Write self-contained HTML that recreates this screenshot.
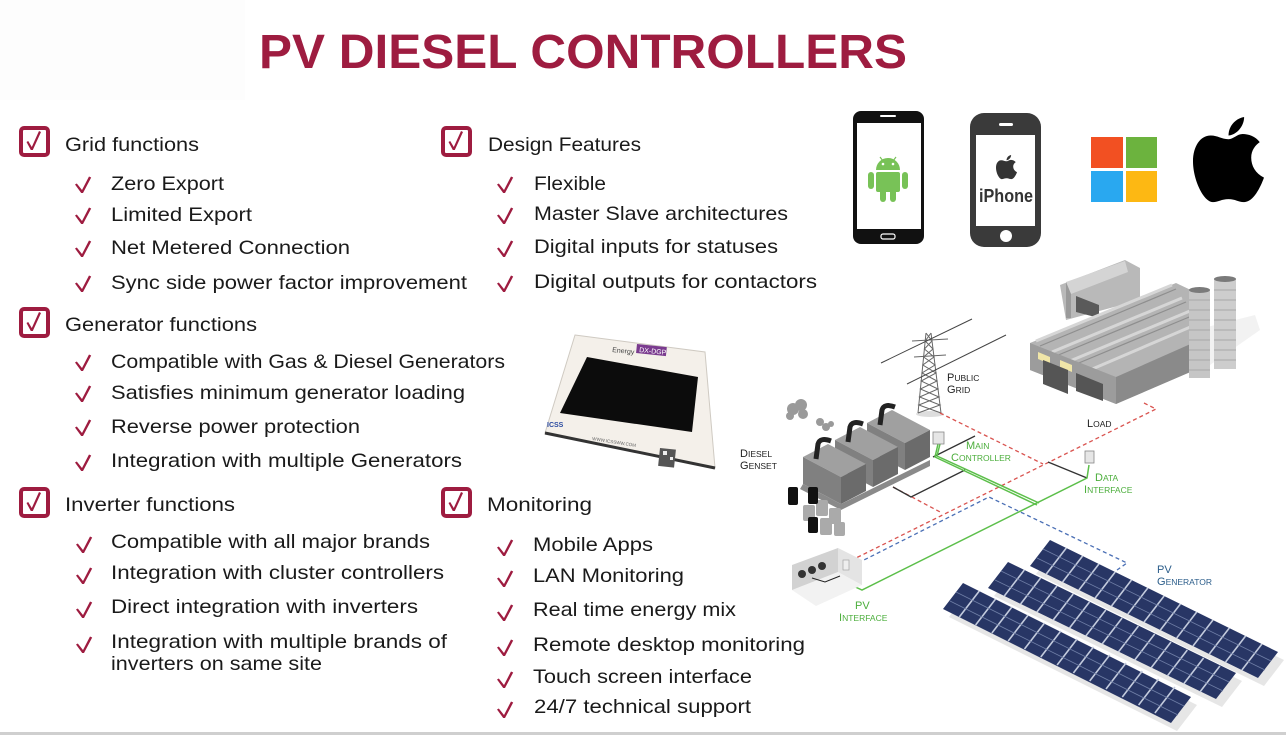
<!DOCTYPE html>
<html><head><meta charset="utf-8"><style>
html,body{margin:0;padding:0;background:#fff;}
svg{display:block;}
.t{font-family:"Liberation Sans",sans-serif;font-size:19.5px;fill:#1a1a1a;}
.lb{font-family:"Liberation Sans",sans-serif;font-size:10px;}
</style></head><body>
<svg width="1286" height="735" viewBox="0 0 1286 735" xmlns="http://www.w3.org/2000/svg">
<defs>
<polygon id="ck" points="0,7.5 1.8,6.5 7,13 14,-0.5 16.2,0.5 8,16 6.2,16" fill="#9e1c40"/>
<g id="bx"><rect x="2" y="2" width="27" height="27" rx="3" fill="#fff" stroke="#9e1c40" stroke-width="4"/><polygon points="7.5,16 9.2,15 12.8,21 20,5 22,6 13.8,24 11.8,24" fill="#9e1c40"/></g>
</defs>
<rect x="0" y="0" width="1286" height="735" fill="#fff"/>
<rect x="0" y="0" width="245" height="100" fill="#fdfdfd"/>
<!-- title -->
<text x="259" y="68" font-family="Liberation Sans, sans-serif" font-weight="bold" font-size="48" fill="#9e1c40" textLength="648" lengthAdjust="spacingAndGlyphs">PV DIESEL CONTROLLERS</text>

<!-- Grid functions -->
<use href="#bx" x="19" y="126"/>
<text class="t" x="65" y="151" textLength="134" lengthAdjust="spacingAndGlyphs">Grid functions</text>
<use href="#ck" x="75" y="177"/><text class="t" x="111" y="190" textLength="113" lengthAdjust="spacingAndGlyphs">Zero Export</text>
<use href="#ck" x="75" y="208"/><text class="t" x="111" y="221" textLength="141" lengthAdjust="spacingAndGlyphs">Limited Export</text>
<use href="#ck" x="75" y="241"/><text class="t" x="111" y="254" textLength="239" lengthAdjust="spacingAndGlyphs">Net Metered Connection</text>
<use href="#ck" x="75" y="276"/><text class="t" x="111" y="289" textLength="356" lengthAdjust="spacingAndGlyphs">Sync side power factor improvement</text>

<!-- Design features -->
<use href="#bx" x="441" y="126"/>
<text class="t" x="488" y="151" textLength="153" lengthAdjust="spacingAndGlyphs">Design Features</text>
<use href="#ck" x="497" y="177"/><text class="t" x="534" y="190" textLength="72" lengthAdjust="spacingAndGlyphs">Flexible</text>
<use href="#ck" x="497" y="208"/><text class="t" x="534" y="220" textLength="254" lengthAdjust="spacingAndGlyphs">Master Slave architectures</text>
<use href="#ck" x="497" y="241"/><text class="t" x="534" y="253" textLength="244" lengthAdjust="spacingAndGlyphs">Digital inputs for statuses</text>
<use href="#ck" x="497" y="276"/><text class="t" x="534" y="288" textLength="283" lengthAdjust="spacingAndGlyphs">Digital outputs for contactors</text>

<!-- Generator -->
<use href="#bx" x="19" y="307"/>
<text class="t" x="65" y="331" textLength="192" lengthAdjust="spacingAndGlyphs">Generator functions</text>
<use href="#ck" x="75" y="355"/><text class="t" x="111" y="368" textLength="394" lengthAdjust="spacingAndGlyphs">Compatible with Gas &amp; Diesel Generators</text>
<use href="#ck" x="75" y="386"/><text class="t" x="111" y="399" textLength="354" lengthAdjust="spacingAndGlyphs">Satisfies minimum generator loading</text>
<use href="#ck" x="75" y="420"/><text class="t" x="111" y="433" textLength="249" lengthAdjust="spacingAndGlyphs">Reverse power protection</text>
<use href="#ck" x="75" y="455"/><text class="t" x="111" y="467" textLength="351" lengthAdjust="spacingAndGlyphs">Integration with multiple Generators</text>

<!-- Inverter -->
<use href="#bx" x="19" y="487"/>
<text class="t" x="65" y="511" textLength="170" lengthAdjust="spacingAndGlyphs">Inverter functions</text>
<use href="#ck" x="76" y="537"/><text class="t" x="111" y="548" textLength="319" lengthAdjust="spacingAndGlyphs">Compatible with all major brands</text>
<use href="#ck" x="76" y="568"/><text class="t" x="111" y="579" textLength="333" lengthAdjust="spacingAndGlyphs">Integration with cluster controllers</text>
<use href="#ck" x="76" y="602"/><text class="t" x="111" y="613" textLength="307" lengthAdjust="spacingAndGlyphs">Direct integration with inverters</text>
<use href="#ck" x="76" y="637"/><text class="t" x="111" y="648" textLength="336" lengthAdjust="spacingAndGlyphs">Integration with multiple brands of</text>
<text class="t" x="111" y="670" textLength="211" lengthAdjust="spacingAndGlyphs">inverters on same site</text>

<!-- Monitoring -->
<use href="#bx" x="441" y="487"/>
<text class="t" x="487" y="511" textLength="105" lengthAdjust="spacingAndGlyphs">Monitoring</text>
<use href="#ck" x="497" y="540"/><text class="t" x="533" y="551" textLength="120" lengthAdjust="spacingAndGlyphs">Mobile Apps</text>
<use href="#ck" x="497" y="571"/><text class="t" x="533" y="582" textLength="151" lengthAdjust="spacingAndGlyphs">LAN Monitoring</text>
<use href="#ck" x="497" y="605"/><text class="t" x="533" y="616" textLength="203" lengthAdjust="spacingAndGlyphs">Real time energy mix</text>
<use href="#ck" x="497" y="640"/><text class="t" x="533" y="651" textLength="272" lengthAdjust="spacingAndGlyphs">Remote desktop monitoring</text>
<use href="#ck" x="497" y="672"/><text class="t" x="533" y="683" textLength="219" lengthAdjust="spacingAndGlyphs">Touch screen interface</text>
<use href="#ck" x="497" y="702"/><text class="t" x="534" y="713" textLength="217" lengthAdjust="spacingAndGlyphs">24/7 technical support</text>

<!-- Android phone -->
<rect x="853" y="111" width="71" height="133" rx="8" fill="#111"/>
<rect x="857" y="123" width="64" height="106" fill="#fff"/>
<rect x="880" y="115" width="16" height="2" rx="1" fill="#fff"/>
<rect x="881" y="234" width="14" height="5" rx="2" fill="none" stroke="#fff" stroke-width="1.2"/>
<g fill="#78c257">
<path d="M876,170 a12,12 0 0 1 24,0 z"/>
<rect x="876" y="172" width="24" height="20" rx="2"/>
<rect x="868" y="172" width="6" height="17" rx="3"/>
<rect x="902" y="172" width="6" height="17" rx="3"/>
<rect x="880" y="188" width="6" height="14" rx="3"/>
<rect x="890" y="188" width="6" height="14" rx="3"/>
<line x1="880" y1="157" x2="883" y2="161" stroke="#78c257" stroke-width="1.2"/>
<line x1="896" y1="157" x2="893" y2="161" stroke="#78c257" stroke-width="1.2"/>
</g>
<circle cx="883" cy="164" r="1.3" fill="#fff"/><circle cx="893" cy="164" r="1.3" fill="#fff"/>

<!-- iPhone -->
<rect x="970" y="113" width="71" height="134" rx="14" fill="#3a3a3a"/>
<rect x="976" y="135" width="59" height="91" fill="#fff"/>
<rect x="999" y="123" width="14" height="3" rx="1.5" fill="#fff"/>
<circle cx="1006" cy="236" r="6" fill="#fff"/>
<g transform="translate(996,155) scale(0.21)" fill="#333">
<path d="M50,30 C40,30 35,25 25,25 C10,25 0,40 0,60 C0,85 15,115 28,115 C36,115 40,111 50,111 C60,111 63,115 72,115 C85,115 95,95 100,82 C88,76 82,66 82,55 C82,45 88,38 94,34 C88,26 78,23 70,23 C62,23 57,30 50,30 Z"/>
<path d="M50,25 C50,12 60,2 72,0 C72,12 62,24 50,25 Z"/>
</g>
<text x="979" y="202" font-family="Liberation Sans, sans-serif" font-weight="bold" font-size="18" fill="#333" textLength="54" lengthAdjust="spacingAndGlyphs">iPhone</text>

<!-- Windows -->
<rect x="1091" y="137" width="32" height="31" fill="#f25022"/>
<rect x="1126" y="137" width="31" height="31" fill="#6cb33e"/>
<rect x="1091" y="171" width="32" height="31" fill="#29a8f0"/>
<rect x="1126" y="171" width="31" height="31" fill="#fdb813"/>

<!-- Apple -->
<g transform="translate(1193,117) scale(0.71,0.74)" fill="#000">
<path d="M50,30 C40,30 35,25 25,25 C10,25 0,40 0,60 C0,85 15,115 28,115 C36,115 40,111 50,111 C60,111 63,115 72,115 C85,115 95,95 100,82 C88,76 82,66 82,55 C82,45 88,38 94,34 C88,26 78,23 70,23 C62,23 57,30 50,30 Z"/>
<path d="M50,25 C50,12 60,2 72,0 C72,12 62,24 50,25 Z"/>
</g>

<!-- Tablet device -->
<polygon points="575,335 705,352 715,468 545,433" fill="#f4f0ea" stroke="#cfcac2" stroke-width="1"/>
<polyline points="545,433 715,468" stroke="#333" stroke-width="3" fill="none"/>
<polygon points="587,357 698,377 692,432 560,413" fill="#0c0c0c"/>
<text x="612" y="352" font-family="Liberation Sans, sans-serif" font-size="7" fill="#444" transform="rotate(6 612 352)">Energy</text>
<rect x="637" y="344" width="30" height="9" fill="#7a3b8f" transform="rotate(6 637 344)"/>
<text x="639" y="352" font-family="Liberation Sans, sans-serif" font-size="7" fill="#fff" transform="rotate(6 639 352)">DX-DGP</text>
<text x="547" y="427" font-family="Liberation Sans, sans-serif" font-size="7" font-weight="bold" fill="#2a4aa0">ICSS</text>
<text x="592" y="440" font-family="Liberation Sans, sans-serif" font-size="4.5" fill="#666" transform="rotate(9 592 440)">WWW.ICSSWW.COM</text>
<rect x="660" y="448" width="16" height="18" fill="#555" transform="rotate(6 660 448)"/>
<rect x="663" y="451" width="4" height="4" fill="#eee"/><rect x="670" y="457" width="3" height="3" fill="#eee"/>

<!-- Factory -->
<polygon points="1195,330 1255,315 1260,330 1200,372" fill="#f2f2f2"/>
<polygon points="1060,285 1125,260 1140,268 1140,300 1066,320" fill="#b9b9b9"/>
<polygon points="1066,282 1125,261 1128,272 1071,294" fill="#d4d4d4"/>
<polygon points="1066,282 1071,294 1071,318 1066,318" fill="#9a9a9a"/>
<polygon points="1076,296 1099,305 1099,318 1076,312" fill="#5a5a5a"/>
<polygon points="1030,343 1176,283 1195,292 1195,370 1116,404 1030,370" fill="#b4b4b4"/>
<g stroke="#d6d6d6" stroke-width="3" fill="none">
<line x1="1036" y1="341" x2="1172" y2="285"/>
<line x1="1052" y1="352" x2="1182" y2="298"/>
<line x1="1070" y1="361" x2="1190" y2="311"/>
<line x1="1090" y1="370" x2="1195" y2="325"/>
</g>
<g stroke="#8e8e8e" stroke-width="1.2" fill="none">
<line x1="1040" y1="346" x2="1176" y2="289"/>
<line x1="1056" y1="356" x2="1186" y2="302"/>
<line x1="1074" y1="365" x2="1194" y2="315"/>
</g>
<polygon points="1030,343 1116,377 1116,404 1030,370" fill="#9c9c9c"/>
<polygon points="1116,377 1195,342 1195,370 1116,404" fill="#8a8a8a"/>
<polygon points="1038,352 1050,357 1050,364 1038,359" fill="#f0e6a8"/>
<polygon points="1060,360 1072,365 1072,372 1060,367" fill="#f0e6a8"/>
<polygon points="1043,360 1068,370 1068,394 1043,384" fill="#555"/>
<polygon points="1076,373 1103,384 1103,401 1076,391" fill="#555"/>
<!-- chimneys -->
<rect x="1189" y="290" width="21" height="88" fill="#c6c6c6"/>
<ellipse cx="1199.5" cy="290" rx="10.5" ry="3" fill="#7a7a7a"/>
<rect x="1214" y="279" width="22" height="90" fill="#cdcdcd"/>
<ellipse cx="1225" cy="279" rx="11" ry="3" fill="#7a7a7a"/>
<g stroke="#a8a8a8" stroke-width="1">
<line x1="1189" y1="300" x2="1210" y2="300"/><line x1="1189" y1="310" x2="1210" y2="310"/><line x1="1189" y1="320" x2="1210" y2="320"/><line x1="1189" y1="330" x2="1210" y2="330"/><line x1="1189" y1="340" x2="1210" y2="340"/><line x1="1189" y1="350" x2="1210" y2="350"/><line x1="1189" y1="360" x2="1210" y2="360"/><line x1="1189" y1="370" x2="1210" y2="370"/>
<line x1="1214" y1="290" x2="1236" y2="290"/><line x1="1214" y1="300" x2="1236" y2="300"/><line x1="1214" y1="310" x2="1236" y2="310"/><line x1="1214" y1="320" x2="1236" y2="320"/><line x1="1214" y1="330" x2="1236" y2="330"/><line x1="1214" y1="340" x2="1236" y2="340"/><line x1="1214" y1="350" x2="1236" y2="350"/><line x1="1214" y1="360" x2="1236" y2="360"/>
</g>

<!-- Tower -->
<ellipse cx="930" cy="414" rx="14" ry="3" fill="#ddd"/>
<g stroke="#666" stroke-width="1" fill="none">
<line x1="926" y1="333" x2="918" y2="413"/><line x1="931" y1="333" x2="941" y2="413"/>
<path d="M926,333 L932,341 L924.4,349 L934,357 L922.8,365 L936,373 L921.2,381 L938,389 L919.6,397 L940,405 L918,413"/>
<path d="M931,333 L925.2,341 L933,349 L923.6,357 L935,365 L922,373 L937,381 L920.4,389 L939,397 L918.8,405 L941,413"/>
<line x1="912" y1="341" x2="948" y2="339"/>
<line x1="914" y1="357" x2="946" y2="355"/>
</g>
<g stroke="#444" stroke-width="1" fill="none">
<line x1="881" y1="363" x2="972" y2="319"/>
<line x1="907" y1="384" x2="1006" y2="335"/>
</g>

<!-- connector lines -->
<g fill="none" stroke-width="1.3" stroke-dasharray="4,3">
<polyline stroke="#d9534f" points="940,413 1043,464"/>
<polyline stroke="#d9534f" points="1144,403 1156,409 856,558"/>
<polyline stroke="#d9534f" points="893,487 942,513"/>
<polyline stroke="#4a6fb5" points="858,563 989,497 1127,563 1117,570"/>
</g>
<g fill="none" stroke="#333" stroke-width="1.3">
<polyline points="933,457 975,436"/>
<polyline points="893,487 911,497 965,470"/>
<polyline points="1087,478 1048,462"/>
</g>
<g fill="none" stroke="#5cbf4a" stroke-width="1.5">
<polyline points="938,444 935,457 1037,505"/>
<polyline points="940,444 937,456 1039,503"/>
<polyline points="1089,465 1087,478 862,590 851,585"/>
</g>
<rect x="933" y="432" width="11" height="12" fill="#e6e6e6" stroke="#888" stroke-width="0.8"/>
<rect x="1085" y="451" width="9" height="12" fill="#e6e6e6" stroke="#888" stroke-width="0.8"/>

<!-- smoke -->
<g fill="#9a9a9a">
<circle cx="793" cy="409" r="6"/><circle cx="801" cy="405" r="6"/><circle cx="803" cy="414" r="5"/><circle cx="790" cy="416" r="4"/>
<circle cx="820" cy="422" r="4"/><circle cx="826" cy="427" r="4"/><circle cx="831" cy="424" r="3"/>
</g>

<!-- gensets -->
<polygon points="867,423 892,410 930,430 905,443" fill="#a0a0a0"/>
<polygon points="867,423 905,443 905,470 867,450" fill="#808080"/>
<polygon points="905,443 930,430 930,457 905,470" fill="#6b6b6b"/>
<path d="M880,425 L882,410 Q884,403 895,407" stroke="#222" stroke-width="5" fill="none"/>
<polygon points="835,440 860,427 898,447 873,460" fill="#a0a0a0"/>
<polygon points="835,440 873,460 873,487 835,467" fill="#808080"/>
<polygon points="873,460 898,447 898,474 873,487" fill="#6b6b6b"/>
<path d="M848,442 L850,427 Q852,420 863,424" stroke="#222" stroke-width="5" fill="none"/>
<polygon points="803,457 828,444 866,464 841,477" fill="#a0a0a0"/>
<polygon points="803,457 841,477 841,504 803,484" fill="#808080"/>
<polygon points="841,477 866,464 866,491 841,504" fill="#6b6b6b"/>
<path d="M816,459 L818,444 Q820,437 831,441" stroke="#222" stroke-width="5" fill="none"/>
<polygon points="841,504 930,460 930,466 841,510 800,489 803,484" fill="#8a8a8a"/>

<!-- barrels -->
<g fill="#aaa">
<rect x="803" y="505" width="12" height="16" rx="2"/><rect x="816" y="500" width="12" height="16" rx="2"/><rect x="829" y="508" width="12" height="16" rx="2"/><rect x="820" y="518" width="12" height="17" rx="2"/><rect x="834" y="522" width="11" height="14" rx="2"/>
</g>
<g fill="#111">
<rect x="788" y="487" width="10" height="18" rx="2"/><rect x="808" y="487" width="10" height="17" rx="2"/><rect x="808" y="517" width="10" height="16" rx="2"/>
</g>

<!-- PV interface room -->
<polygon points="792,590 838,572 862,585 816,606" fill="#f2f2f2"/>
<polygon points="792,565 838,548 838,572 792,590" fill="#d2d2d2"/>
<polygon points="838,548 862,560 862,585 838,572" fill="#e4e4e4"/>
<circle cx="802" cy="574" r="4" fill="#333"/><circle cx="812" cy="570" r="4" fill="#333"/><circle cx="822" cy="566" r="4" fill="#333"/>
<rect x="843" y="560" width="6" height="10" fill="#eee" stroke="#999" stroke-width="0.6"/>
<polyline points="812,578 825,582 840,576" stroke="#222" stroke-width="1" fill="none"/>

<!-- Solar panels -->
<g>
<polygon points="1056,548 1284,660 1264,686 1036,574" fill="#dcdcdc" opacity="0.7"/>
<polygon points="1050,540 1278,652 1258,678 1030,566" fill="#283665"/>
<path d="M1066.3,548 l-20,26 m36.3,-18 l-20,26 m36.3,-18 l-20,26 m36.3,-18 l-20,26 m36.3,-18 l-20,26 m36.3,-18 l-20,26 m36.3,-18 l-20,26 m36.3,-18 l-20,26 m36.3,-18 l-20,26 m36.3,-18 l-20,26 m36.3,-18 l-20,26 m36.3,-18 l-20,26 m36.3,-18 l-20,26" stroke="#c3cbdd" stroke-width="1.6" fill="none"/>
<line x1="1043" y1="549" x2="1271" y2="661" stroke="#6f7ea6" stroke-width="0.8"/>
<line x1="1037" y1="558" x2="1265" y2="670" stroke="#6f7ea6" stroke-width="0.8"/>
<polygon points="1014,570 1242,681 1222,707 994,596" fill="#dcdcdc" opacity="0.7"/>
<polygon points="1008,562 1236,673 1216,699 988,588" fill="#283665"/>
<path d="M1024.3,570 l-20,26 m36.3,-18 l-20,26 m36.3,-18 l-20,26 m36.3,-18 l-20,26 m36.3,-18 l-20,26 m36.3,-18 l-20,26 m36.3,-18 l-20,26 m36.3,-18 l-20,26 m36.3,-18 l-20,26 m36.3,-18 l-20,26 m36.3,-18 l-20,26 m36.3,-18 l-20,26 m36.3,-18 l-20,26" stroke="#c3cbdd" stroke-width="1.6" fill="none"/>
<line x1="1001" y1="571" x2="1229" y2="682" stroke="#6f7ea6" stroke-width="0.8"/>
<line x1="995" y1="580" x2="1223" y2="691" stroke="#6f7ea6" stroke-width="0.8"/>
<polygon points="969,591 1197,705 1177,731 949,617" fill="#dcdcdc" opacity="0.7"/>
<polygon points="963,583 1191,697 1171,723 943,609" fill="#283665"/>
<path d="M979.3,591 l-20,26 m36.3,-18 l-20,26 m36.3,-18 l-20,26 m36.3,-18 l-20,26 m36.3,-18 l-20,26 m36.3,-18 l-20,26 m36.3,-18 l-20,26 m36.3,-18 l-20,26 m36.3,-18 l-20,26 m36.3,-18 l-20,26 m36.3,-18 l-20,26 m36.3,-18 l-20,26 m36.3,-18 l-20,26" stroke="#c3cbdd" stroke-width="1.6" fill="none"/>
<line x1="956" y1="592" x2="1184" y2="706" stroke="#6f7ea6" stroke-width="0.8"/>
<line x1="950" y1="601" x2="1178" y2="715" stroke="#6f7ea6" stroke-width="0.8"/>
</g>

<!-- diagram labels -->
<text class="lb" fill="#222"><tspan x="947" y="381" font-size="11">P</tspan><tspan font-size="8.5">UBLIC</tspan></text>
<text class="lb" fill="#222"><tspan x="947" y="393" font-size="11">G</tspan><tspan font-size="8.5">RID</tspan></text>
<text class="lb" fill="#222"><tspan x="740" y="457" font-size="11">D</tspan><tspan font-size="8.5">IESEL</tspan></text>
<text class="lb" fill="#222"><tspan x="740" y="469" font-size="11">G</tspan><tspan font-size="8.5">ENSET</tspan></text>
<text class="lb" fill="#222"><tspan x="1087" y="427" font-size="11">L</tspan><tspan font-size="8.5">OAD</tspan></text>
<text class="lb" fill="#4cae3c"><tspan x="966" y="449" font-size="11">M</tspan><tspan font-size="8.5">AIN</tspan></text>
<text class="lb" fill="#4cae3c"><tspan x="951" y="461" font-size="11">C</tspan><tspan font-size="8.5">ONTROLLER</tspan></text>
<text class="lb" fill="#4cae3c"><tspan x="1095" y="481" font-size="11">D</tspan><tspan font-size="8.5">ATA</tspan></text>
<text class="lb" fill="#4cae3c"><tspan x="1084" y="493" font-size="11">I</tspan><tspan font-size="8.5">NTERFACE</tspan></text>
<text class="lb" fill="#4cae3c"><tspan x="855" y="609" font-size="11">PV</tspan></text>
<text class="lb" fill="#4cae3c"><tspan x="839" y="621" font-size="11">I</tspan><tspan font-size="8.5">NTERFACE</tspan></text>
<text class="lb" fill="#2b5d8a"><tspan x="1157" y="573" font-size="11">PV</tspan></text>
<text class="lb" fill="#2b5d8a"><tspan x="1157" y="585" font-size="11">G</tspan><tspan font-size="8.5">ENERATOR</tspan></text>

<!-- bottom line -->
<rect x="0" y="732" width="1286" height="3" fill="#cfcfcf"/>
</svg>
</body></html>
